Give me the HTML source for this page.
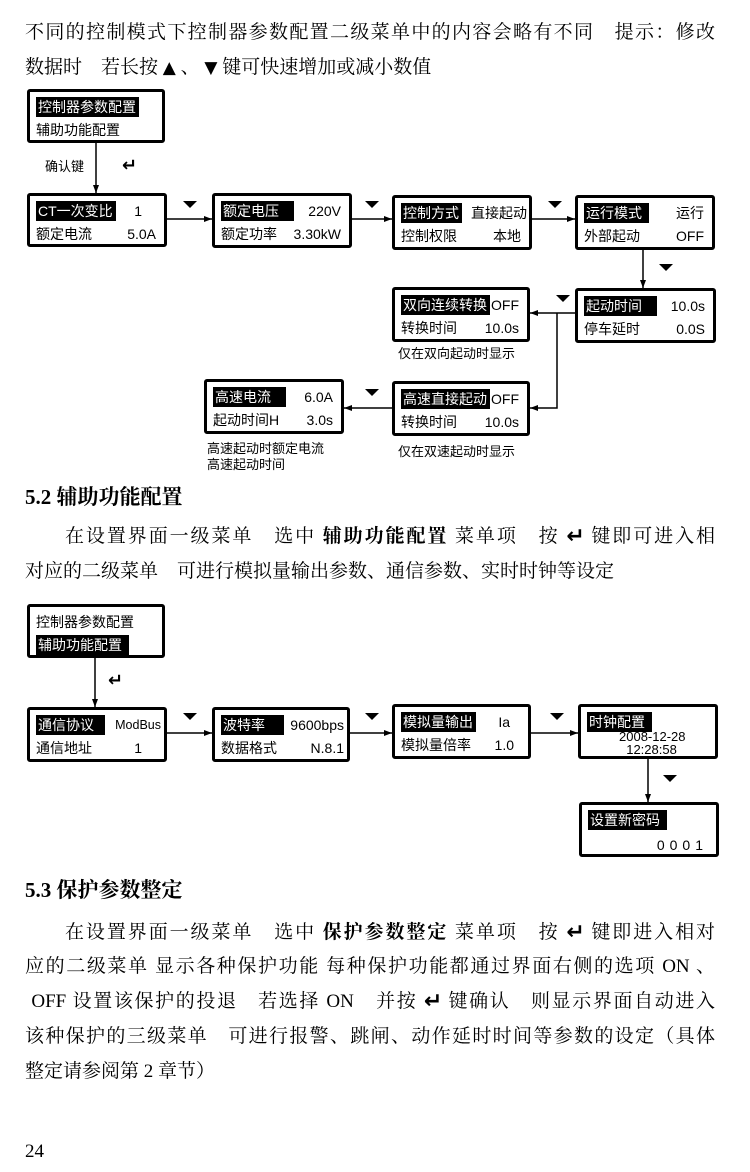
<!DOCTYPE html>
<html><head><meta charset="utf-8">
<style>
*{margin:0;padding:0;box-sizing:border-box}
body{width:750px;height:1172px;background:#fff;position:relative;overflow:hidden;font-family:"Liberation Serif","Noto Serif CJK SC",serif;color:#000}
.t{position:absolute;font-size:19px;white-space:nowrap;line-height:24px}
.j{position:absolute;left:25px;width:690px;font-size:19px;line-height:24px;white-space:nowrap;text-align:justify;text-align-last:justify}
.h{position:absolute;left:25px;font-size:21px;font-weight:bold;line-height:26px}
.box{position:absolute;border:3px solid #000;border-radius:3px;background:#fff;font-family:"Liberation Sans","Noto Sans CJK SC",sans-serif;font-size:14px}
.r{position:absolute;left:6px;right:8px;display:flex;justify-content:space-between;align-items:center;height:20px;line-height:20px;white-space:nowrap}
.r1{top:5px}.r2{top:28px}
.hl{background:#000;color:#fff;padding:0 3px 0 2px}
.cap{position:absolute;font-family:"Liberation Sans","Noto Sans CJK SC",sans-serif;font-size:13px;line-height:16px;white-space:nowrap}
.k{font-family:"DejaVu Sans",sans-serif;font-weight:bold;font-size:22px;line-height:20px;vertical-align:-1px}
</style></head><body>

<div class="j" style="top:21px">不同的控制模式下控制器参数配置二级菜单中的内容会略有不同　提示：修改</div>
<div class="t" style="left:25px;top:56px">数据时　若长按 <span style="font-size:17px;font-family:'DejaVu Sans'">▲</span> 、 <span style="font-size:17px;font-family:'DejaVu Sans'">▼</span> 键可快速增加或减小数值</div>

<svg style="position:absolute;left:0;top:0" width="750" height="1172">
<defs><marker id="a" markerWidth="8" markerHeight="6" refX="8" refY="3" orient="auto" markerUnits="userSpaceOnUse"><path d="M0,0 L8,3 L0,6z" fill="#000"/></marker></defs>
<g stroke="#000" stroke-width="1.5" fill="none" marker-end="url(#a)">
<line x1="96" y1="143" x2="96" y2="193"/>
<line x1="167" y1="219" x2="212" y2="219"/>
<line x1="352" y1="219" x2="392" y2="219"/>
<line x1="532" y1="219" x2="575" y2="219"/>
<line x1="643" y1="250" x2="643" y2="288"/>
<line x1="575" y1="313" x2="530" y2="313"/>
<polyline points="557,313 557,408 530,408"/>
<line x1="392" y1="408" x2="344" y2="408"/>
<line x1="95" y1="658" x2="95" y2="707"/>
<line x1="167" y1="733" x2="212" y2="733"/>
<line x1="350" y1="733" x2="392" y2="733"/>
<line x1="531" y1="733" x2="578" y2="733"/>
<line x1="648" y1="759" x2="648" y2="802"/>
</g>
<g fill="#000">
<path d="M183,201h14l-7,7z"/><path d="M365,201h14l-7,7z"/><path d="M548,201h14l-7,7z"/>
<path d="M659,264h14l-7,7z"/><path d="M556,295h14l-7,7z"/><path d="M365,389h14l-7,7z"/>
<path d="M183,713h14l-7,7z"/><path d="M365,713h14l-7,7z"/><path d="M550,713h14l-7,7z"/>
<path d="M663,775h14l-7,7z"/>
</g>
</svg>

<div class="box" style="left:27px;top:89px;width:138px;height:54px"><div class="r r1"><span class="hl">控制器参数配置</span></div><div class="r r2"><span>辅助功能配置</span></div></div>
<div class="cap" style="left:45px;top:159px">确认键</div>
<div class="k" style="position:absolute;left:122px;top:156px;font-size:18px">↵</div>

<div class="box" style="left:27px;top:193px;width:140px;height:54px"><div class="r r1"><span class="hl">CT一次变比</span><span style="margin-right:14px">1</span></div><div class="r r2"><span>额定电流</span><span>5.0A</span></div></div>
<div class="box" style="left:212px;top:193px;width:140px;height:55px"><div class="r r1"><span class="hl">额定电压&nbsp;&nbsp;&nbsp;</span><span>220V</span></div><div class="r r2"><span>额定功率</span><span>3.30kW</span></div></div>
<div class="box" style="left:392px;top:195px;width:140px;height:55px"><div class="r r1" style="right:2px"><span class="hl">控制方式</span><span>直接起动</span></div><div class="r r2"><span>控制权限</span><span>本地</span></div></div>
<div class="box" style="left:575px;top:195px;width:140px;height:55px"><div class="r r1"><span class="hl">运行模式&nbsp;</span><span>运行</span></div><div class="r r2"><span>外部起动</span><span>OFF</span></div></div>
<div class="box" style="left:575px;top:288px;width:141px;height:55px"><div class="r r1"><span class="hl">起动时间&nbsp;&nbsp;&nbsp;</span><span>10.0s</span></div><div class="r r2"><span>停车延时</span><span>0.0S</span></div></div>
<div class="box" style="left:392px;top:287px;width:138px;height:55px"><div class="r r1"><span class="hl">双向连续转换</span><span>OFF</span></div><div class="r r2"><span>转换时间</span><span>10.0s</span></div></div>
<div class="cap" style="left:398px;top:346px">仅在双向起动时显示</div>
<div class="box" style="left:392px;top:381px;width:138px;height:55px"><div class="r r1"><span class="hl">高速直接起动</span><span>OFF</span></div><div class="r r2"><span>转换时间</span><span>10.0s</span></div></div>
<div class="cap" style="left:398px;top:444px">仅在双速起动时显示</div>
<div class="box" style="left:204px;top:379px;width:140px;height:55px"><div class="r r1"><span class="hl">高速电流&nbsp;&nbsp;&nbsp;</span><span>6.0A</span></div><div class="r r2"><span>起动时间H</span><span>3.0s</span></div></div>
<div class="cap" style="left:207px;top:441px">高速起动时额定电流<br>高速起动时间</div>

<div class="h" style="top:484px">5.2 辅助功能配置</div>
<div class="t" style="left:65px;top:525px;width:650px;text-align:justify;text-align-last:justify">在设置界面一级菜单　选中 <b>辅助功能配置</b> 菜单项　按 <span class="k">↵</span> 键即可进入相</div>
<div class="t" style="left:25px;top:560px">对应的二级菜单　可进行模拟量输出参数、通信参数、实时时钟等设定</div>

<div class="box" style="left:27px;top:604px;width:138px;height:54px"><div class="r r1"><span>控制器参数配置</span></div><div class="r r2"><span class="hl">辅助功能配置&nbsp;</span></div></div>
<div class="k" style="position:absolute;left:108px;top:671px;font-size:18px">↵</div>
<div class="box" style="left:27px;top:707px;width:140px;height:55px"><div class="r r1" style="right:3px"><span class="hl">通信协议&nbsp;&nbsp;</span><span style="font-size:12.5px">ModBus</span></div><div class="r r2"><span>通信地址</span><span style="margin-right:14px">1</span></div></div>
<div class="box" style="left:212px;top:707px;width:138px;height:55px"><div class="r r1" style="right:3px"><span class="hl">波特率&nbsp;&nbsp;&nbsp;&nbsp;</span><span>9600bps</span></div><div class="r r2" style="right:3px"><span>数据格式</span><span>N.8.1</span></div></div>
<div class="box" style="left:392px;top:704px;width:139px;height:55px"><div class="r r1"><span class="hl">模拟量输出</span><span style="margin-right:10px">Ia</span></div><div class="r r2"><span>模拟量倍率</span><span style="margin-right:6px">1.0</span></div></div>
<div class="box" style="left:578px;top:704px;width:140px;height:55px"><div class="r r1"><span class="hl">时钟配置&nbsp;</span></div><div style="position:absolute;left:38px;top:23px;font-size:13px;line-height:13px">2008-12-28<br>&nbsp;&nbsp;12:28:58</div></div>
<div class="box" style="left:579px;top:802px;width:140px;height:55px"><div class="r r1"><span class="hl">设置新密码&nbsp;</span></div><div class="r" style="top:30px;justify-content:flex-end"><span style="letter-spacing:5px">0001</span></div></div>

<div class="h" style="top:877px">5.3 保护参数整定</div>
<div class="t" style="left:65px;top:921px;width:650px;text-align:justify;text-align-last:justify">在设置界面一级菜单　选中 <b>保护参数整定</b> 菜单项　按 <span class="k">↵</span> 键即进入相对</div>
<div class="j" style="top:955px">应的二级菜单 显示各种保护功能 每种保护功能都通过界面右侧的选项 ON 、</div>
<div class="j" style="top:990px">&nbsp;OFF 设置该保护的投退　若选择 ON　并按 <span class="k">↵</span> 键确认　则显示界面自动进入</div>
<div class="j" style="top:1025px">该种保护的三级菜单　可进行报警、跳闸、动作延时时间等参数的设定（具体</div>
<div class="t" style="left:25px;top:1060px">整定请参阅第 2 章节）</div>
<div class="t" style="left:25px;top:1140px">24</div>
</body></html>
